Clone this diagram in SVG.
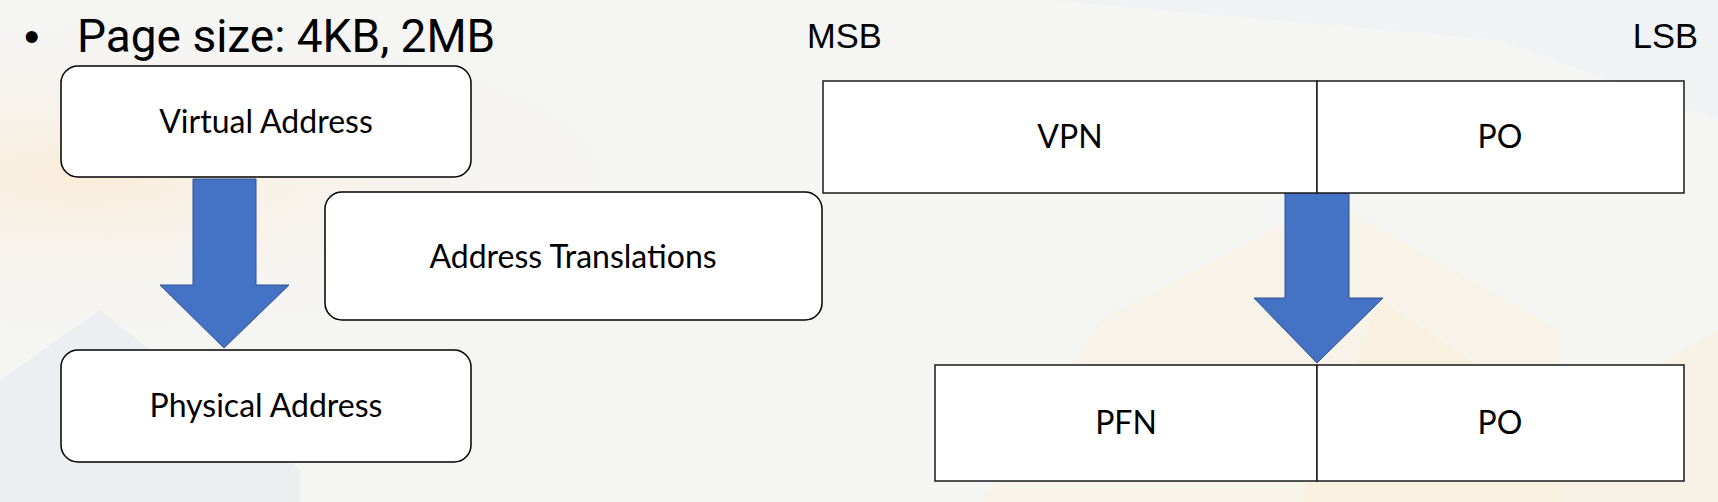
<svg xmlns="http://www.w3.org/2000/svg" width="1718" height="502" viewBox="0 0 1718 502">
<defs>
<style>
.node{fill:#FFFFFF;stroke:#000000;stroke-width:1.5}
.cell{fill:#FFFFFF;stroke:#1a1a1a;stroke-width:1.5}
.lbl{font-family:Lato,"Open Sans",sans-serif;font-size:32px;fill:#000000;text-anchor:middle}
.hdr{font-family:"Liberation Sans",Arial,sans-serif;font-size:34.5px;fill:#000000}
.arrow{fill:#4472C4;stroke:#2F528F;stroke-width:1}
</style>
<radialGradient id="warm" cx="0.05" cy="0.35" r="0.35">
<stop offset="0" stop-color="#FBEBD3" stop-opacity="0.8"/>
<stop offset="1" stop-color="#F5F5F5" stop-opacity="0"/>
</radialGradient>
</defs>
<g id="background">
<rect x="0" y="0" width="1718" height="502" fill="#F5F5F4"/>
<rect x="0" y="0" width="1718" height="502" fill="url(#warm)"/>
<polygon points="100,310 300,470 300,502 0,502 0,380" fill="#E6EAF0" opacity="0.6"/>
<polygon points="1100,320 1330,200 1560,330 1560,502 980,502" fill="#FBF1DC" opacity="0.5"/>
<polygon points="1380,300 1560,420 1718,330 1718,502 1300,502" fill="#FAEFD6" opacity="0.5"/>
<polygon points="1050,0 1718,0 1718,120 1500,40" fill="#EEF0F4" opacity="0.5"/>
</g>
<g id="title">
<text x="24" y="52" font-family="'Liberation Sans',Arial,sans-serif" font-size="44px" fill="#000">•</text>
<text x="77" y="52" font-family="Roboto,'Liberation Sans',sans-serif" font-size="46px" fill="#000">Page size: 4KB, 2MB</text>
</g>
<g id="msb"><text class="hdr" x="807" y="48">MSB</text></g>
<g id="lsb"><text class="hdr" x="1698" y="48" text-anchor="end">LSB</text></g>
<g id="connectors">
<polygon class="arrow" points="193,179 256,179 256,285 289,285 224,348 160,285 193,285"/>
<polygon class="arrow" points="1285,193 1349,193 1349,298 1383,298 1317,363 1254,298 1285,298"/>
</g>
<g id="virtual-address">
<rect class="node" x="61" y="66" width="410" height="111" rx="17"/>
<text class="lbl" x="266" y="133">Virtual Address</text>
</g>
<g id="address-translations">
<rect class="node" x="325" y="192" width="497" height="128" rx="17"/>
<text class="lbl" x="573" y="268">Address Translations</text>
</g>
<g id="physical-address">
<rect class="node" x="61" y="350" width="410" height="112" rx="17"/>
<text class="lbl" x="266" y="417">Physical Address</text>
</g>
<g id="virtual-bits">
<rect class="cell" x="823" y="81" width="494" height="112"/>
<rect class="cell" x="1317" y="81" width="367" height="112"/>
<text class="lbl" x="1070" y="148">VPN</text>
<text class="lbl" x="1500" y="148">PO</text>
</g>
<g id="physical-bits">
<rect class="cell" x="935" y="365" width="382" height="116"/>
<rect class="cell" x="1317" y="365" width="367" height="116"/>
<text class="lbl" x="1126" y="434">PFN</text>
<text class="lbl" x="1500" y="434">PO</text>
</g>
</svg>
